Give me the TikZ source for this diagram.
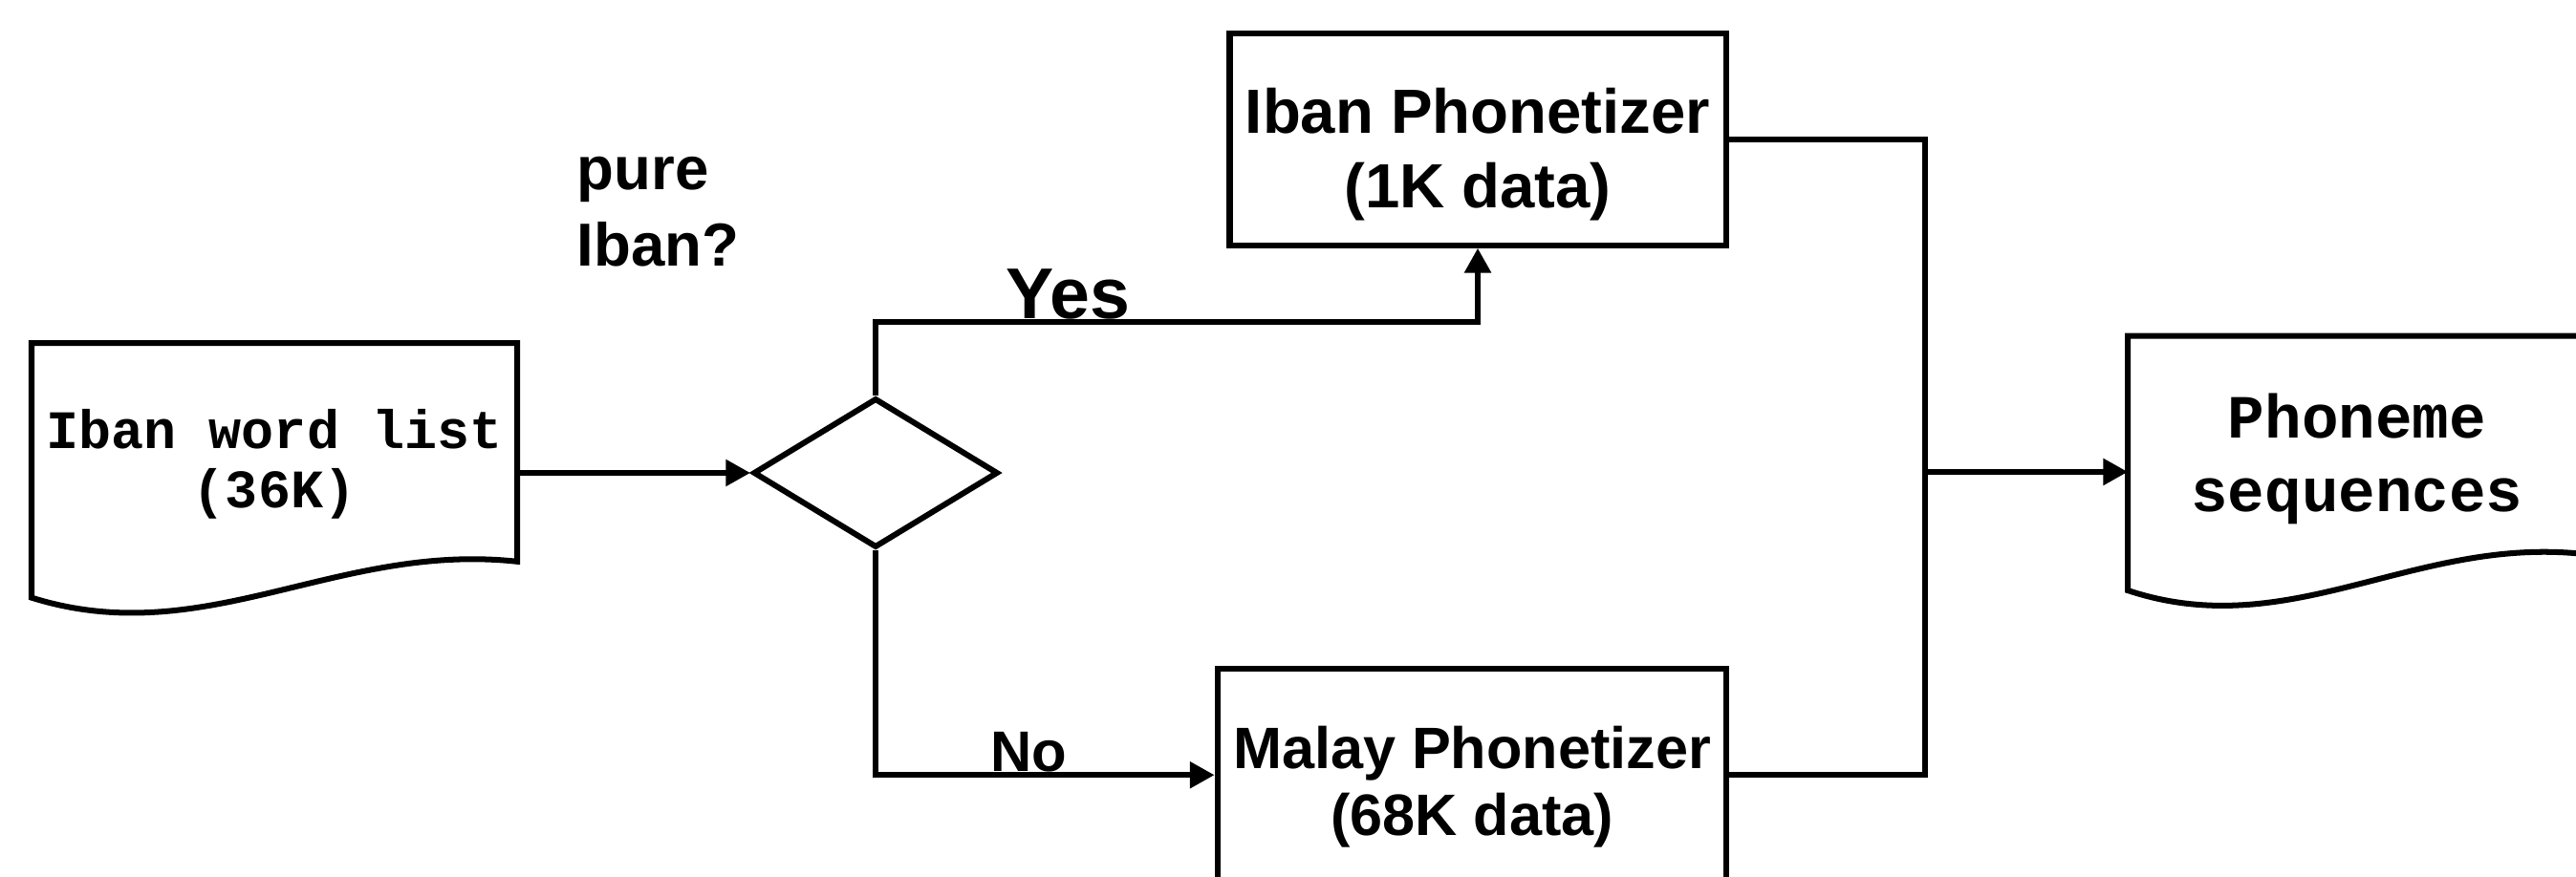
\documentclass[tikz,border=0pt]{standalone}
\usepackage{fontspec}
\setmainfont{Liberation Sans}
\newfontfamily\monofont{Liberation Mono}
\usetikzlibrary{shapes.geometric,arrows.meta,calc}
\tikzstyle{wire} = [draw, line width=1.75pt]
\tikzstyle{arrow} = [wire, -{Triangle[length=7.5pt,width=7.8pt]}]
\tikzstyle{phon} = [wire, rectangle, minimum height=64.5pt, inner sep=0pt, align=center]
\tikzstyle{doc} = [rectangle, minimum height=77.1pt, inner sep=0pt, align=center]
\tikzstyle{decision} = [wire, diamond, minimum width=74.5pt, minimum height=45.5pt, inner sep=0pt]
\tikzstyle{answer} = [inner sep=0pt]
\newcommand{\docoutline}[1]{%
  \draw[wire] (#1.north west) -- (#1.north east) -- ([yshift=11pt]#1.south east)
    .. controls ($(#1.south west)!0.627!(#1.south east)+(0,34)$)
    and ($(#1.south west)!0.356!(#1.south east)+(0,-33)$) .. (#1.south west) -- cycle;}

\begin{document}
\begin{tikzpicture}[x=0.5pt, y=0.5pt]
\clip (0,0) rectangle (1568,534);
\node[doc, minimum width=147.4pt, font=\monofont\bfseries\fontsize{16.5pt}{18pt}\selectfont] (wordlist) at (167,247.5) {Iban word list\\(36K)\rule[-7.3pt]{0pt}{7.3pt}};
\docoutline{wordlist}
\node[decision] (pure) at (533,246) {};
\node[anchor=west, align=left, inner sep=0pt, font=\bfseries\fontsize{18.5pt}{23.5pt}\selectfont] (question) at (351,405) {pure\\Iban?};
\node[phon, minimum width=151pt, font=\bfseries\fontsize{19pt}{22.75pt}\selectfont] (iban) at (899.5,449.1) {\rule{0pt}{23pt}Iban Phonetizer\\(1K data)};
\node[phon, minimum width=155pt, font=\bfseries\fontsize{17.8pt}{20.3pt}\selectfont] (malay) at (896,62) {\rule{0pt}{20pt}Malay Phonetizer\\(68K data)};
\node[doc, minimum width=139.1pt, font=\monofont\bfseries\fontsize{18.7pt}{22.3pt}\selectfont] (phoneme) at (1434.7,251.9) {Phoneme\\sequences\rule[-6.4pt]{0pt}{6.4pt}};
\docoutline{phoneme}
\coordinate (yesbend) at (533,338);
\coordinate (merge) at (1172,246.6);
\draw[arrow] (wordlist.east |- pure.west) -- (pure.west);
\draw[arrow] (pure.north) -- (yesbend) -| node[answer, above, pos=0.16, font=\bfseries\fontsize{21.9pt}{21.9pt}\selectfont] {Yes} (iban.south);
\draw[arrow] (pure.south) |- node[answer, above, pos=0.726, font=\bfseries\fontsize{17.4pt}{17.4pt}\selectfont] {No} (malay.west);
\draw[wire] (iban.east) -| (merge) |- (malay.east);
\draw[arrow] (merge) -- (merge -| phoneme.west);
\end{tikzpicture}
\end{document}
